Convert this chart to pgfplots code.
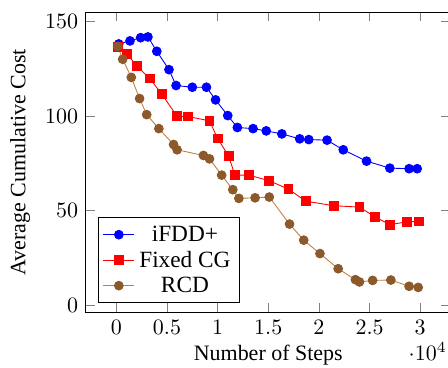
\documentclass[border=0pt]{standalone}
\usepackage{fontspec}
\setmainfont{Liberation Serif}
\usepackage{pgfplots}
\pgfplotsset{compat=1.18}
\definecolor{rcdmark}{rgb}{0.55,0.35,0.17}
\begin{document}
\begin{tikzpicture}
\begin{axis}[
  name=ax,
  scale only axis,
  width=166pt, height=136.8pt,
  xmin=-3000, xmax=33000,
  ymin=-4, ymax=155,
  xtick={0,5000,10000,15000,20000,25000,30000},
  ytick={0,50,100,150},
  tick style={gray},
  xlabel={Number of Steps},
  ylabel={Average Cumulative Cost},
  xlabel style={at={(axis description cs:0.5,0)}, anchor=base, yshift=-21.6pt},
  every x tick scale label/.style={at={(axis description cs:1,0)}, anchor=base east, yshift=-21.6pt, xshift=-1.6pt, inner sep=0pt},
  legend style={at={(axis description cs:0.033,0.031)}, anchor=south west, font=\fontsize{10.6pt}{12pt}\selectfont, row sep=0pt, inner sep=2pt,
    nodes={text height=7.2pt, text depth=0.6pt, inner ysep=1.9pt, inner xsep=2.0pt}},
  legend cell align=center,
  legend image code/.code={\draw[mark repeat=2,mark phase=2] plot coordinates {(0cm,0cm) (0.25cm,0cm) (0.5cm,0cm)};},
]
\addplot[blue, mark=*, mark options={fill=blue}] coordinates {
(240,138.1) (1350,139.7) (2400,141.4) (3120,141.8) (4000,134.2) (5200,124.5)
(5900,116.1) (7500,115.2) (8900,115.2) (9800,108.5) (11000,100.2) (11950,93.9)
(13500,93.3) (14800,92.1) (16340,90.5) (18100,87.9) (19000,87.5) (20800,87.2)
(22400,82.1) (24700,76.1) (27000,72.4) (28900,72.1) (29700,72.1)
};
\addlegendentry{iFDD+}
\addplot[red, mark=square*, mark options={fill=red}] coordinates {
(140,136.5) (1050,132.8) (2000,126.6) (3300,119.8) (4500,111.5) (6000,99.8)
(7100,99.7) (9200,97.4) (10000,88.1) (11100,78.7) (11700,68.7) (13100,68.7)
(15100,65.7) (17000,61.3) (18700,54.9) (21500,52.5) (24000,51.8) (25500,46.7)
(27000,42.5) (28700,44.0) (29900,44.2)
};
\addlegendentry{Fixed CG}
\addplot[brown, mark=*, mark options={fill=rcdmark, draw=rcdmark}] coordinates {
(140,136.8) (630,130.0) (1480,120.4) (2300,109.2) (3000,100.7) (4200,93.3)
(5650,84.9) (6000,82.1) (8600,79.1) (9200,77.3) (10400,68.7) (11500,61.0)
(12100,56.4) (13700,56.7) (15100,57.1) (17100,42.8) (18500,34.3) (20100,27.2)
(21900,19.2) (23600,13.4) (24000,12.2) (25300,13.0) (27100,13.2) (28900,9.9)
(29800,9.3)
};
\addlegendentry{RCD}
\end{axis}
\pgfresetboundingbox
\path ([shift={(-39.1pt,-25pt)}]ax.south west) rectangle ([shift={(-1.2pt,5.45pt)}]ax.north east);
\end{tikzpicture}
\end{document}
